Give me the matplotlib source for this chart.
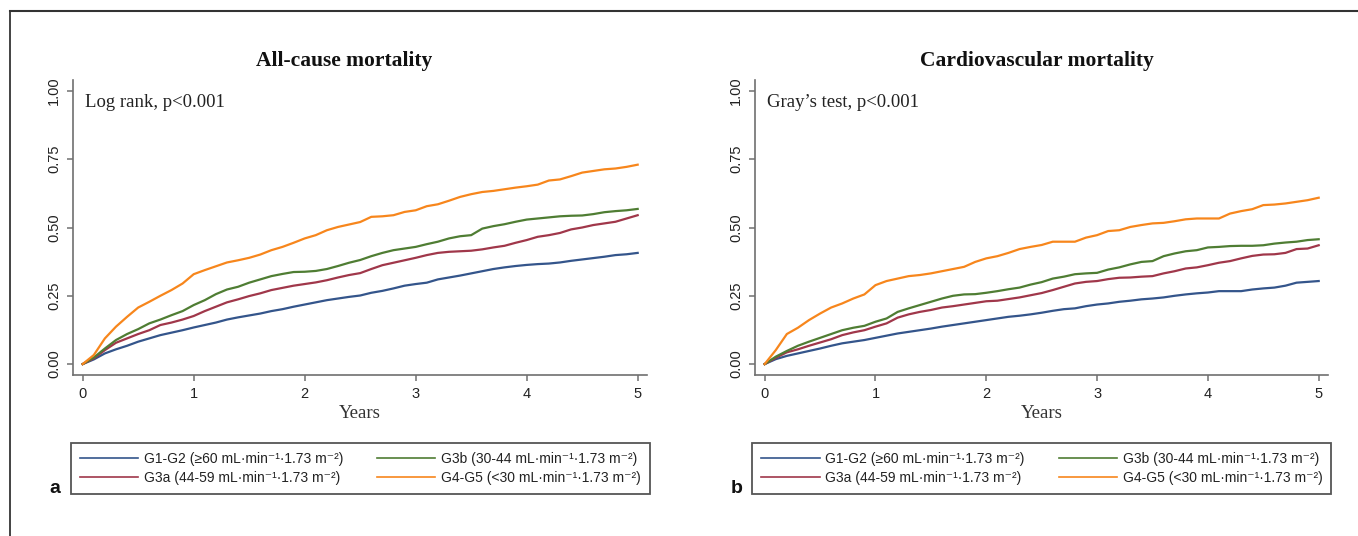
import matplotlib
matplotlib.use("Agg")
import matplotlib.pyplot as plt
from matplotlib.lines import Line2D

# follow-up time grid (years)
years = [0.0, 0.1, 0.2, 0.3, 0.4, 0.5, 0.6, 0.7, 0.8, 0.9,
         1.0, 1.1, 1.2, 1.3, 1.4, 1.5, 1.6, 1.7, 1.8, 1.9,
         2.0, 2.1, 2.2, 2.3, 2.4, 2.5, 2.6, 2.7, 2.8, 2.9,
         3.0, 3.1, 3.2, 3.3, 3.4, 3.5, 3.6, 3.7, 3.8, 3.9,
         4.0, 4.1, 4.2, 4.3, 4.4, 4.5, 4.6, 4.7, 4.8, 4.9, 5.0]

# all-cause mortality (panel a)
ac_g12 = [0, .017, .039, .054, .067, .082, .094, .106, .115, .124,
          .134, .143, .152, .163, .171, .178, .185, .194, .201, .210,
          .218, .226, .234, .240, .246, .251, .261, .268, .277, .287,
          .293, .298, .310, .317, .324, .332, .340, .348, .354, .359,
          .363, .366, .368, .372, .378, .383, .388, .393, .399, .402, .407]
ac_g3a = [0, .021, .051, .078, .094, .110, .124, .143, .152, .163,
          .176, .194, .210, .226, .237, .249, .259, .271, .279, .287,
          .293, .299, .307, .317, .326, .333, .348, .362, .371, .380,
          .389, .399, .407, .411, .413, .415, .420, .427, .433, .444,
          .454, .466, .472, .480, .493, .500, .509, .515, .521, .533, .545]
ac_g3b = [0, .024, .057, .088, .110, .128, .149, .163, .179, .194,
          .216, .234, .256, .273, .283, .298, .310, .322, .330, .337,
          .338, .341, .348, .359, .371, .381, .395, .407, .417, .423,
          .429, .439, .448, .460, .468, .472, .496, .505, .512, .521,
          .529, .533, .537, .541, .543, .544, .549, .556, .560, .563, .568]
ac_g45 = [0, .033, .094, .137, .173, .207, .228, .250, .271, .295,
          .329, .344, .358, .372, .380, .389, .401, .417, .429, .444,
          .460, .472, .490, .502, .511, .520, .539, .541, .545, .557,
          .563, .578, .585, .598, .612, .622, .630, .634, .640, .646,
          .651, .657, .672, .676, .688, .701, .707, .713, .716, .722, .730]

# cardiovascular mortality (panel b)
cv_g12 = [0, .018, .030, .039, .048, .057, .067, .076, .082, .088,
          .096, .104, .112, .118, .124, .130, .137, .143, .149, .155,
          .161, .167, .173, .177, .182, .188, .195, .201, .204, .212,
          .218, .222, .228, .232, .237, .240, .244, .250, .255, .259,
          .262, .267, .267, .267, .273, .277, .280, .287, .298, .301, .304]
cv_g3a = [0, .023, .043, .054, .067, .079, .091, .106, .116, .124,
          .137, .149, .170, .182, .191, .198, .207, .212, .218, .224,
          .230, .232, .238, .244, .252, .260, .271, .283, .295, .301,
          .304, .311, .316, .317, .320, .322, .332, .340, .350, .354,
          .362, .371, .377, .387, .396, .401, .402, .407, .421, .423, .435]
cv_g3b = [0, .027, .048, .067, .082, .096, .110, .124, .133, .140,
          .155, .167, .191, .204, .216, .228, .240, .250, .255, .256,
          .261, .267, .274, .280, .291, .300, .313, .320, .329, .332,
          .334, .346, .354, .365, .374, .377, .395, .405, .413, .417,
          .427, .429, .432, .433, .433, .435, .441, .445, .448, .454, .457]
cv_g45 = [0, .051, .110, .133, .161, .185, .207, .222, .240, .255,
          .289, .304, .313, .322, .326, .332, .340, .348, .356, .374,
          .387, .395, .407, .421, .429, .436, .448, .448, .448, .463,
          .472, .487, .490, .502, .509, .515, .517, .523, .530, .533,
          .533, .533, .551, .560, .567, .582, .584, .588, .594, .600, .609]

groups = ['G1-G2 (≥60 mL·min⁻¹·1.73 m⁻²)',
          'G3a (44-59 mL·min⁻¹·1.73 m⁻²)',
          'G3b (30-44 mL·min⁻¹·1.73 m⁻²)',
          'G4-G5 (<30 mL·min⁻¹·1.73 m⁻²)']
colors = ['#34558b', '#a0374a', '#4f7d33', '#f7861c']
titles = ['All-cause mortality', 'Cardiovascular mortality']
tests = ['Log rank, p<0.001', 'Gray’s test, p<0.001']
panel_tags = ['a', 'b']
yticks = [0, 0.25, 0.5, 0.75, 1.0]
ytick_labels = ['0.00', '0.25', '0.50', '0.75', '1.00']
xticks = [0, 1, 2, 3, 4, 5]

W, H = 1358, 536
SERIF = ['Liberation Serif', 'DejaVu Serif']
SANS = ['Liberation Sans', 'DejaVu Sans']
plt.rcParams['font.family'] = SANS

fig = plt.figure(figsize=(W / 100, H / 100), dpi=100)

# outer frame (top and left only)
fig.add_artist(Line2D([9.5 / W, 9.5 / W], [0, 1 - 11 / H], color='#222222', lw=1.2))
fig.add_artist(Line2D([9.5 / W, 1], [1 - 11 / H, 1 - 11 / H], color='#333333', lw=1.5))

ax_left = [72.7, 754.7]
ax_right = [647, 1328]
title_x = [344, 1037]
leg_left = [70.7, 752.3]
tag_x = [55, 737]

panels = [[ac_g12, ac_g3a, ac_g3b, ac_g45], [cv_g12, cv_g3a, cv_g3b, cv_g45]]

for i, curves in enumerate(panels):
    ax = fig.add_axes([ax_left[i] / W, 1 - 375 / H,
                       (ax_right[i] - ax_left[i]) / W, (375 - 80) / H])
    for vals, c in zip(curves, colors):
        ax.plot(years, vals, color=c, lw=1.6, solid_joinstyle='round')
    ax.set_xlim(-0.09, 5.084)
    ax.set_ylim(-0.040, 1.040)
    for s in ['top', 'right']:
        ax.spines[s].set_visible(False)
    for s in ['left', 'bottom']:
        ax.spines[s].set_color('#707070')
        ax.spines[s].set_linewidth(1.2)
    ax.set_xticks(xticks)
    ax.set_yticks(yticks)
    ax.set_yticklabels(ytick_labels, rotation=90, va='center')
    ax.tick_params(direction='out', length=4.5, width=1.1, color='#707070',
                   labelsize=10.5, labelcolor='#222222', pad=4)
    ax.set_xlabel('Years', family=SERIF, fontsize=13.5, color='#333333', labelpad=3)
    ax.text(0.02, 0.956, tests[i], family=SERIF, fontsize=13.5, color='#222222',
            ha='left', va='center')
    fig.text(title_x[i] / W, 1 - 61 / H, titles[i], family=SERIF, fontsize=15.5,
             weight='bold', ha='center', va='center', color='#111111')

    handles = [Line2D([], [], color=c, lw=1.2) for c in colors]
    leg = ax.legend(handles, groups, ncol=2, loc='upper left',
                    bbox_to_anchor=(leg_left[i] / W, 1 - 443 / H),
                    bbox_transform=fig.transFigure, borderaxespad=0,
                    fontsize=10, handlelength=4.2, handletextpad=0.4,
                    columnspacing=2.45, labelspacing=0.35, borderpad=0.65,
                    fancybox=False, framealpha=1, edgecolor='#555555')
    leg.get_frame().set_linewidth(1.3)
    for t in leg.get_texts():
        t.set_color('#222222')
        t.set_family(SANS)

    fig.text(tag_x[i] / W, 1 - 493 / H, panel_tags[i], fontsize=14, weight='bold',
             ha='center', va='baseline', color='#111111')

fig.savefig('out.png', dpi=100)
